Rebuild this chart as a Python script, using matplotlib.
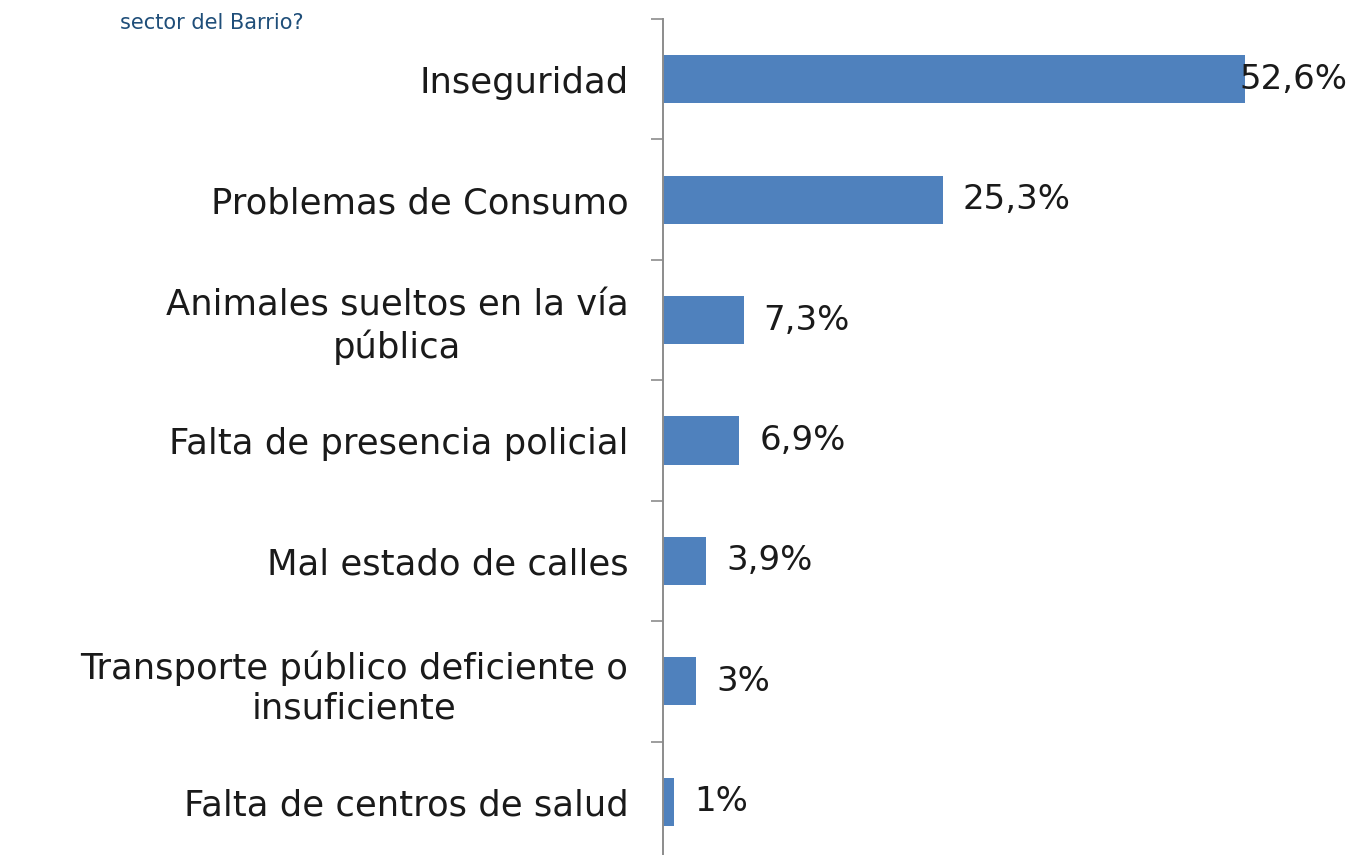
import matplotlib.pyplot as plt

plt.rcParams['font.family'] = ['DejaVu Sans']

categorias = [
    'Inseguridad',
    'Problemas de Consumo',
    'Animales sueltos en la vía\npública',
    'Falta de presencia policial',
    'Mal estado de calles',
    'Transporte público deficiente o\ninsuficiente',
    'Falta de centros de salud',
]
porcentajes = [52.6, 25.3, 7.3, 6.9, 3.9, 3.0, 1.0]
etiquetas = ['52,6%', '25,3%', '7,3%', '6,9%', '3,9%', '3%', '1%']

fig = plt.figure(figsize=(13.59, 8.55), dpi=100)
ax = fig.add_axes([663 / 1359, -7 / 855, 696 / 1359, 843 / 855])

pos = list(range(len(categorias)))
ax.barh(pos, porcentajes, height=0.4, color='#4F81BD')

ax.set_ylim(len(categorias) - 0.5, -0.5)
ax.set_xlim(0, 696 / 11.06)

ax.set_yticks(pos)
ax.set_yticklabels(categorias, fontsize=25.5, color='#1a1a1a', multialignment='center',
                   linespacing=1.22)
ax.set_yticks([p - 0.5 for p in range(len(categorias) + 1)], minor=True)
ax.tick_params(axis='y', which='major', length=0, pad=25)
ax.tick_params(axis='y', which='minor', length=9, width=1.2, color='#8c8c8c')
ax.set_xticks([])

for lado in ['top', 'right', 'bottom']:
    ax.spines[lado].set_visible(False)
ax.spines['left'].set_color('#8c8c8c')
ax.spines['left'].set_linewidth(1.4)

# etiquetas de valor al final de cada barra
maximo = max(porcentajes)
for p, v, txt in zip(pos, porcentajes, etiquetas):
    desp = -0.5 if v == maximo else 1.8
    ax.text(v + desp, p, txt, va='center', ha='left', fontsize=24.5, color='#1a1a1a')

fig.text(120 / 1359, 1 - 23 / 855, 'sector del Barrio?', fontsize=15, color='#1F4E79',
         va='center', ha='left')

fig.savefig('out.png', dpi=100, facecolor='white')
